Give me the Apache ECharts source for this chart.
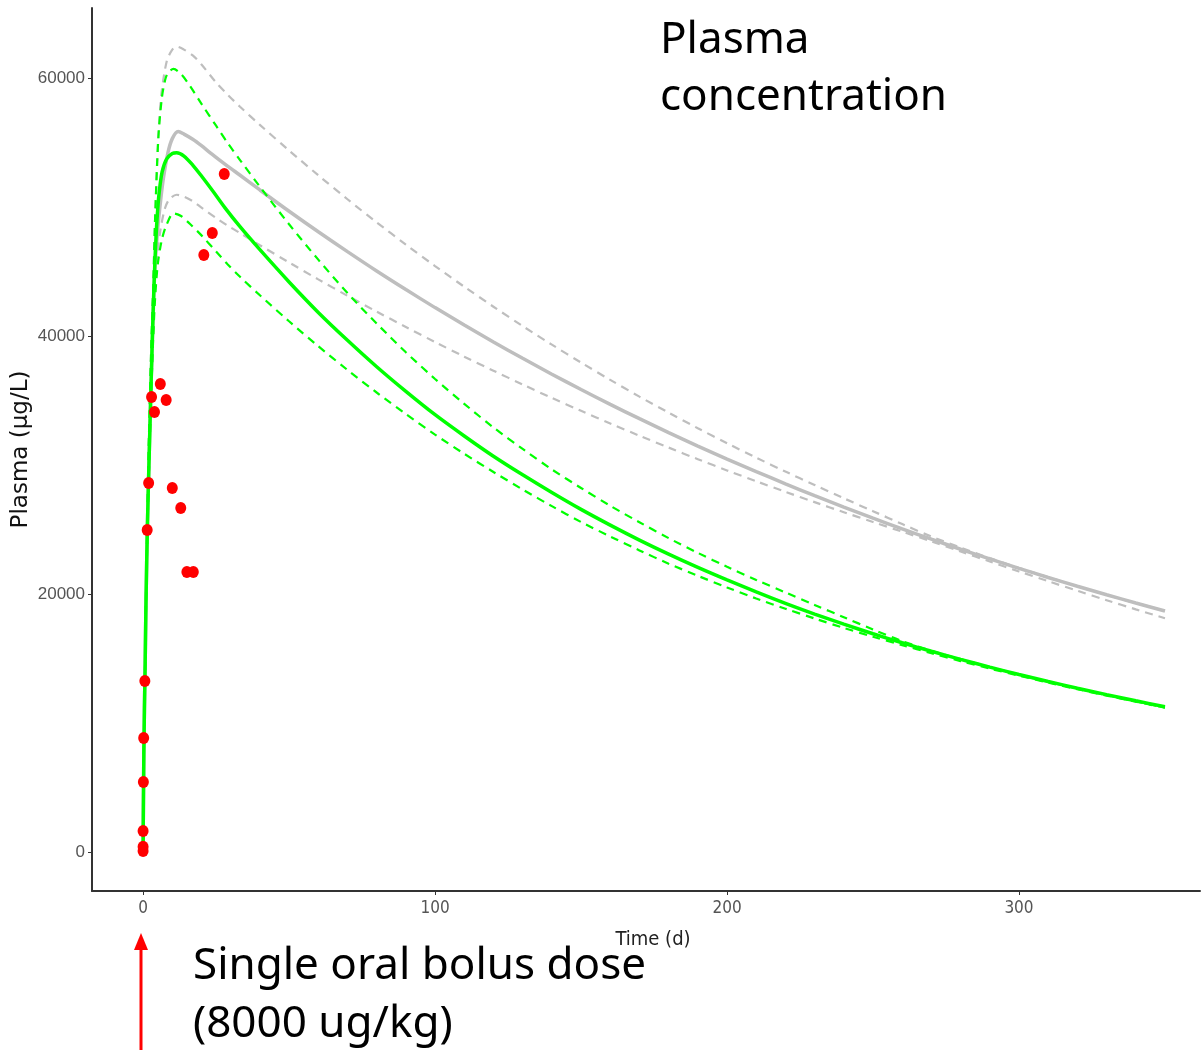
<!DOCTYPE html>
<html><head><meta charset="utf-8">
<script src="https://cdn.jsdelivr.net/npm/echarts@6/dist/echarts.min.js"></script>
<style>html,body{margin:0;padding:0;background:#fff}#c{width:1203px;height:1050px}</style>
</head><body><div id="c"></div><script>
// Tick labels
const xTicks = [0, 100, 200, 300];
const yTicks = [0, 20000, 40000, 60000];

// Observed data (red points): [time (d), plasma (µg/L)]
const observed = [
  [0, 80], [0, 400], [0, 1630], [0.1, 5430], [0.2, 8840], [0.6, 13260],
  [1.4, 24960], [1.9, 28600], [2.9, 35270], [3.9, 34100], [5.9, 36280],
  [7.9, 35040], [10, 28220], [12.9, 26670], [15, 21700], [17.2, 21700],
  [20.8, 46280], [23.7, 47980], [27.8, 52560]
];

// Green model: median, upper and lower bounds
const greenMid = [
  [0,0],[0.1,3500],[0.25,7500],[0.45,11000],[0.7,14500],[1,19500],[1.5,25500],[2,30000],
  [2.5,34300],[3,38500],[3.5,42300],[4,45500],[4.5,48000],[5,49800],[5.5,51100],[6.5,52700],
  [8,53700],[10,54150],[11.5,54200],[14,53950],[17,53250],[20,52400],[24,51200],[28,49950],
  [33.2,48470],[40,46690],[50,44190],[60,41830],[70,39670],[80,37620],[90,35710],[100,33900],
  [110,32250],[120,30680],[130,29240],[140,27870],[150,26560],[160,25340],[170,24180],[180,23090],
  [190,22060],[200,21090],[210,20160],[220,19270],[230,18440],[240,17660],[250,16920],[260,16220],
  [270,15560],[280,14930],[290,14330],[300,13760],[310,13220],[320,12700],[330,12200],[340,11720],[350,11260]
];
const greenUp = [
  [0,0],[0.1,3500],[0.25,7500],[0.45,11000],[0.7,14800],[1,20000],[1.5,26500],[1.8,30150],
  [2.2,34030],[2.7,38400],[3.5,44000],[4.1,49000],[5.2,55300],[6.4,58400],[7.5,59800],[8.5,60400],
  [10.4,60700],[13,60300],[16,59400],[20,58000],[25,56300],[29,54950],[33.2,53640],[40,51570],
  [50,48660],[60,45920],[70,43330],[80,40970],[90,38740],[100,36670],[110,34740],[120,32910],
  [130,31250],[140,29660],[150,28220],[160,26840],[170,25560],[180,24330],[190,23190],[200,22110],
  [210,21090],[220,20120],[230,19150],[240,18200],[250,17250],[260,16350],[270,15600],[280,14950],
  [290,14340],[300,13760],[310,13200],[320,12670],[330,12160],[340,11670],[350,11200]
];
const greenLo = [
  [0,0],[0.1,3500],[0.25,7500],[0.45,11000],[0.7,14300],[1,19000],[1.5,25000],[2,29500],
  [2.5,33500],[3,37000],[3.5,40000],[4,42500],[5,45500],[6.4,47440],[8,48600],[10.4,49500],
  [13,49300],[16,48700],[20,47800],[25,46550],[29,45550],[33.2,44590],[40,43160],[50,41140],
  [60,39210],[70,37370],[80,35620],[90,33950],[100,32360],[110,30870],[120,29460],[130,28100],
  [140,26810],[150,25580],[160,24460],[170,23380],[180,22350],[190,21410],[200,20510],[210,19650],
  [220,18860],[230,18100],[240,17370],[250,16690],[260,16040],[270,15410],[280,14800],[290,14220],
  [300,13670],[310,13130],[320,12620],[330,12120],[340,11650],[350,11190]
];

// Grey model: median, upper and lower bounds
const greyMid = [
  [0,0],[0.1,3500],[0.25,7500],[0.45,11000],[0.7,14500],[1,19500],[1.5,25500],[2,30000],
  [2.5,34300],[3,38300],[3.5,42000],[4,45000],[5,48300],[6,50500],[7,52300],[8.5,54200],
  [10,55300],[12,55850],[14,55650],[17,55250],[20,54750],[23,54200],[27,53500],[30,52990],
  [33,52500],[40,51320],[50,49670],[60,48080],[70,46540],[80,45040],[90,43600],[100,42200],
  [110,40850],[120,39540],[130,38270],[140,37040],[150,35850],[160,34700],[170,33590],[180,32510],
  [190,31470],[200,30460],[210,29490],[220,28540],[230,27620],[240,26740],[250,25880],[260,25050],
  [270,24250],[280,23470],[290,22720],[300,21990],[310,21280],[320,20600],[330,19940],[340,19300],[350,18680]
];
const greyUp = [
  [0,0],[0.1,3500],[0.25,7500],[0.45,11000],[0.7,14800],[1,20000],[1.5,26500],[2,32000],
  [2.7,38400],[3.5,44000],[4.1,49000],[5.2,55300],[5.8,57520],[6.4,59000],[8.1,61300],[10,62200],
  [11.5,62430],[14,62200],[17,61750],[20,61050],[25,59650],[29,58700],[33.2,57770],[40,56370],
  [50,54380],[60,52460],[70,50600],[80,48810],[90,47090],[100,45420],[110,43820],[120,42270],
  [130,40770],[140,39330],[150,37940],[160,36600],[170,35300],[180,34060],[190,32850],[200,31690],
  [210,30570],[220,29490],[230,28450],[240,27420],[250,26420],[260,25420],[270,24450],[280,23600],
  [290,22780],[300,22020],[310,21300],[320,20600],[330,19930],[340,19300],[350,18700]
];
const greyLo = [
  [0,0],[0.1,3500],[0.25,7500],[0.45,11000],[0.7,14300],[1,19000],[1.5,25000],[2,29500],
  [2.5,33500],[3,37200],[3.5,40800],[4,43800],[5,46500],[6,48300],[7.5,49900],[9,50600],
  [11.5,50950],[14,50800],[17,50450],[20,49950],[25,49150],[29,48550],[33.2,47980],[40,47040],
  [50,45700],[60,44390],[70,43120],[80,41890],[90,40700],[100,39530],[110,38400],[120,37310],
  [130,36240],[140,35200],[150,34200],[160,33220],[170,32270],[180,31350],[190,30450],[200,29580],
  [210,28740],[220,27920],[230,27120],[240,26340],[250,25580],[260,24830],[270,24080],[280,23300],
  [290,22520],[300,21750],[310,20990],[320,20250],[330,19520],[340,18810],[350,18120]
];

const GREEN = '#00ff00';
const GREY = '#bebebe';

function lineSeries(name, data, color, width, dashed, z) {
  return {
    name, type: 'line', data, showSymbol: false, smooth: 0.3, z,
    lineStyle: { color, width, type: dashed ? [8, 6] : 'solid' },
    emphasis: { disabled: true }, silent: true
  };
}

const chart = echarts.init(document.getElementById('c'), null, { renderer: 'canvas' });
chart.setOption({
  animation: false,
  backgroundColor: '#ffffff',
  grid: { left: 92, top: 8, right: 3, bottom: 159, containLabel: false, outerBoundsMode: 'none' },
  xAxis: {
    type: 'value', min: -17.5, max: 362,
    name: 'Time (d)', nameLocation: 'middle', nameGap: 39, nameMoveOverlap: false,
    nameTextStyle: { color: '#222', fontSize: 20, padding: [0, 0, 0, 14],
      fontFamily: '"DejaVu Sans Condensed", "DejaVu Sans", sans-serif' },
    axisLine: { show: true, onZero: false, lineStyle: { color: '#333', width: 2 } },
    axisTick: { show: true, length: 4, customValues: xTicks, lineStyle: { color: '#333' } },
    axisLabel: { customValues: xTicks, color: '#555', fontSize: 17, margin: 9,
      fontFamily: '"DejaVu Sans Condensed", "DejaVu Sans", sans-serif' },
    splitLine: { show: false }
  },
  yAxis: {
    type: 'value', min: -3023, max: 65426,
    name: 'Plasma (µg/L)', nameLocation: 'middle', nameGap: 59, nameRotate: 90, nameMoveOverlap: false,
    nameTextStyle: { color: '#111', fontSize: 23, fontFamily: '"DejaVu Sans", sans-serif' },
    axisLine: { show: true, onZero: false, lineStyle: { color: '#333', width: 2 } },
    axisTick: { show: true, length: 4, customValues: yTicks, lineStyle: { color: '#333' } },
    axisLabel: { customValues: yTicks, color: '#555', fontSize: 17, margin: 7,
      fontFamily: '"Liberation Sans", Arial, sans-serif', formatter: v => String(v) },
    splitLine: { show: false }
  },
  series: [
    lineSeries('Grey upper', greyUp, GREY, 2.2, true, 2),
    lineSeries('Grey lower', greyLo, GREY, 2.2, true, 2),
    lineSeries('Grey median', greyMid, GREY, 3.5, false, 3),
    lineSeries('Green upper', greenUp, GREEN, 2.2, true, 4),
    lineSeries('Green lower', greenLo, GREEN, 2.2, true, 4),
    lineSeries('Green median', greenMid, GREEN, 3.5, false, 5),
    {
      name: 'Observed', type: 'scatter', data: observed, z: 10,
      symbol: 'circle', symbolSize: [11, 12],
      itemStyle: { color: '#ff0000', opacity: 1 }, silent: true
    }
  ],
  graphic: [
    { type: 'text', left: 660, top: 12,
      style: { text: 'Plasma\nconcentration', fill: '#000', font: '44px "Noto Sans", "Open Sans", sans-serif', lineHeight: 57 } },
    { type: 'text', left: 193, top: 937,
      style: { text: 'Single oral bolus dose\n(8000 ug/kg)', fill: '#000', font: '44px "Noto Sans", "Open Sans", sans-serif', lineHeight: 58 } },
    { type: 'line', shape: { x1: 141, y1: 1050, x2: 141, y2: 948 }, style: { stroke: '#ff0000', lineWidth: 3 } },
    { type: 'polygon', shape: { points: [[141, 933], [134, 950], [148, 950]] }, style: { fill: '#ff0000' } }
  ]
});
</script></body></html>
